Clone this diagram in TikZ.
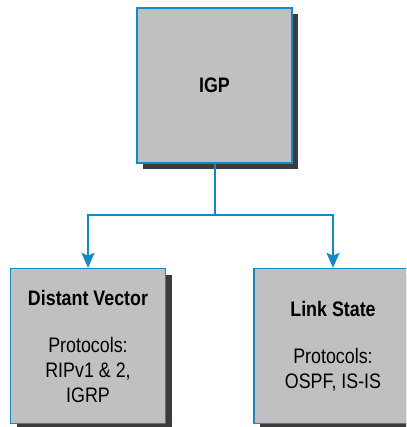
\documentclass[tikz,border=0pt]{standalone}
\usepackage{xcolor}
\usepackage{fontspec}
\setmainfont{Liberation Sans}[FakeStretch=0.85]
\usepackage{tikz}
\usetikzlibrary{arrows.meta, shadows}

\definecolor{igpblue}{HTML}{1589C6}
\definecolor{boxgray}{HTML}{C0C0C0}
\definecolor{shadowgray}{HTML}{3C3C3C}

\begin{document}
\begin{tikzpicture}[
          x=1pt, y=-1pt,
          protobox/.style={rectangle, draw=igpblue, fill=boxgray, line width=1.4pt,
            minimum width=155pt, minimum height=155pt, align=center, inner sep=0pt,
            font=\fontsize{21}{25}\selectfont,
            drop shadow={shadow xshift=6pt, shadow yshift=-6pt, fill=shadowgray, opacity=1}},
          link/.style={draw=igpblue, line width=2pt},
          tip/.style={-{Stealth[length=15pt, width=13pt, inset=3pt]}}
        ]
          \useasboundingbox (0,0) rectangle (406,427);
          \clip (0,0) rectangle (406,427);

          % Top box
          \node[protobox] (igp) at (214.5, 85.5) {\textbf{IGP}};

          % Protocol families
          \node[protobox] (distvec) at (88, 346) {\textbf{Distant Vector}\\[22pt]
            Protocols:\\RIPv1 \& 2,\\IGRP};
          \node[protobox, minimum width=158pt] (linkstate) at (333, 346) {\textbf{Link State}\\[22pt]
            Protocols:\\OSPF, IS-IS};

          % Connectors
          \coordinate (split) at (igp.south |- 0,215);
          \draw[link] (igp.south) -- (split);
          \draw[link, tip] (split) -| (distvec.north);
          \draw[link, tip] (split) -| (linkstate.north);
        \end{tikzpicture}
\end{document}
